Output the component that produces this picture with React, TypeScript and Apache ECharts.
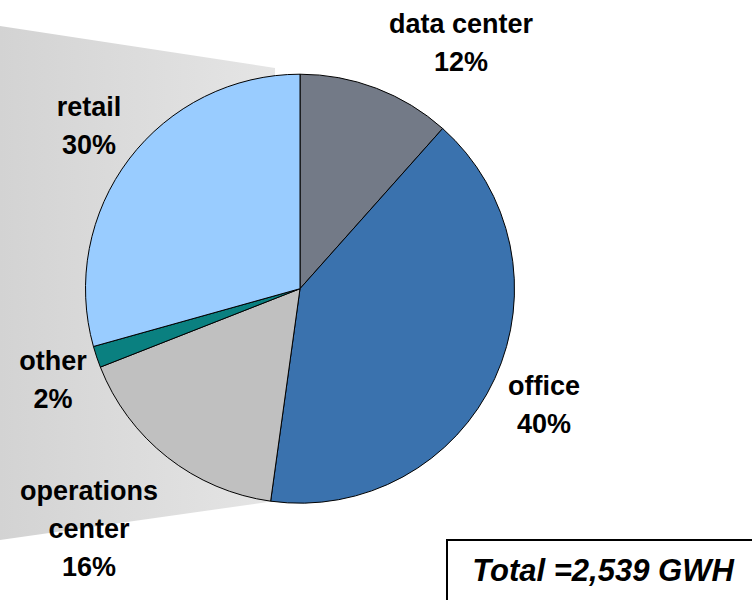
import React, { useEffect, useRef } from "react";
import * as echarts from "echarts";

// Data (GWh)
const categories = ["data center", "office", "operations center", "other", "retail"];
const labelNames = ["data center", "office", "operations\ncenter", "other", "retail"];
const valuesGWh = [294, 1031, 428, 41, 745];
const shareLabels = ["12%", "40%", "16%", "2%", "30%"];
const sliceColors = ["#737a87", "#3a72ae", "#c0c0c0", "#0a8080", "#99ccff"];

// label anchor positions (layout only)
const labelPos: [number, number][] = [
  [461, 43],
  [544, 405],
  [89, 529],
  [53, 380],
  [89, 126],
];

export default function App() {
  const ref = useRef<HTMLDivElement>(null);
  useEffect(() => {
    document.body.style.margin = "0";
    if (!ref.current) return;
    const chart = echarts.init(ref.current, undefined, { renderer: "svg" });
    const total = valuesGWh.reduce((a, b) => a + b, 0);
    const font = "'Liberation Sans', Arial, sans-serif";
    chart.setOption({
      animation: false,
      backgroundColor: "#ffffff",
      graphic: [
        {
          type: "polygon",
          z: 0,
          silent: true,
          shape: { points: [[0, 26], [275, 68], [275, 501], [0, 540]] },
          style: {
            fill: new echarts.graphic.LinearGradient(0, 0, 1, 0, [
              { offset: 0, color: "#d3d3d3" },
              { offset: 1, color: "#e5e5e5" },
            ]),
          },
        },
        {
          type: "rect",
          z: 10,
          shape: { x: 447, y: 540, width: 330, height: 90 },
          style: { fill: "#ffffff", stroke: "#000000", lineWidth: 2 },
        },
        {
          type: "text",
          z: 11,
          x: 603,
          y: 570,
          style: {
            text: "Total =" + total.toLocaleString("en-US") + " GWH",
            font: "italic bold 31px " + font,
            fill: "#000",
            textAlign: "center",
            textVerticalAlign: "middle",
          },
        },
      ],
      series: [
        {
          type: "pie",
          z: 5,
          center: [300, 288.7],
          radius: 214.5,
          startAngle: 90,
          clockwise: true,
          avoidLabelOverlap: false,
          itemStyle: { borderColor: "#000", borderWidth: 1 },
          emphasis: { disabled: true },
          label: {
            show: true,
            position: "outside",
            color: "#000",
            fontSize: 27,
            fontWeight: "bold",
            fontFamily: font,
            lineHeight: 38,
            align: "center",
            formatter: (p: any) => labelNames[p.dataIndex] + "\n" + shareLabels[p.dataIndex],
          },
          labelLine: { show: false },
          labelLayout: (p: any) => ({
            x: labelPos[p.dataIndex][0],
            y: labelPos[p.dataIndex][1],
            align: "center",
            verticalAlign: "middle",
          }),
          data: categories.map((c, i) => ({
            name: c,
            value: valuesGWh[i],
            itemStyle: { color: sliceColors[i] },
          })),
        },
      ],
    });
    return () => chart.dispose();
  }, []);
  return <div ref={ref} style={{ width: 752, height: 600 }} />;
}
